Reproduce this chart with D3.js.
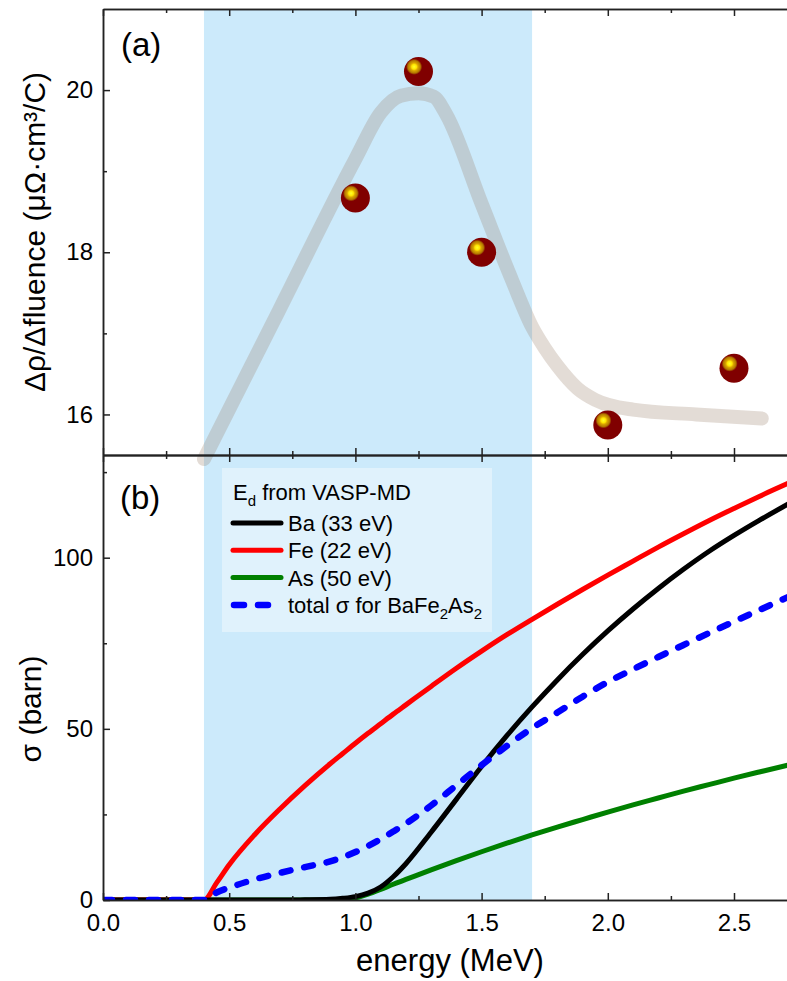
<!DOCTYPE html>
<html>
<head>
<meta charset="utf-8">
<script src="https://cdn.jsdelivr.net/npm/d3@7"></script>
<style>
  body { margin: 0; background: #fff; }
  svg { display: block; font-family: "Liberation Sans", Arial, sans-serif; }
  .axis path, .axis line { stroke: #222; stroke-width: 1.5; }
  .axis text { fill: #000; }
</style>
</head>
<body>
<div id="grafico"></div>
<script>
// panel (a): measured points and guide-to-the-eye curve
var energiaPuntos = [1.0, 1.25, 1.5, 2.0, 2.5]
var rhoPuntos = [18.67, 20.23, 18.0, 15.87, 16.57]
var energiaGuia = [0.4, 0.7, 1.0, 1.1, 1.18, 1.25, 1.31, 1.36, 1.5, 1.62, 1.7, 1.75, 1.8, 1.88, 1.95, 2.1, 2.35, 2.61]
var rhoGuia = [15.45, 17.3, 19.15, 19.72, 19.93, 19.96, 19.92, 19.7, 18.6, 17.66, 17.08, 16.82, 16.6, 16.32, 16.18, 16.06, 16.0, 15.95]

// panel (b): displacement cross sections
var energia = [0, 0.1, 0.2, 0.3, 0.4, 0.45, 0.5, 0.6, 0.7, 0.8, 0.9, 0.95, 1.0, 1.05, 1.1, 1.15, 1.2, 1.3, 1.4, 1.5, 1.6, 1.7, 1.8, 1.9, 2.0, 2.1, 2.2, 2.3, 2.4, 2.5, 2.6, 2.72]
var sigmaBa = [0, 0, 0, 0, 0, 0, 0, 0, 0, 0.05, 0.2, 0.5, 1.0, 2.0, 3.8, 6.8, 10.6, 19.8, 29.4, 39, 48, 56.4, 64.3, 71.7, 78.6, 85, 91, 96.6, 101.8, 106.5, 110.9, 115.9]
var sigmaFe = [0, 0, 0, 0, 0, 5.0, 10.3, 19, 26.5, 33.4, 39.8, 42.8, 45.8, 48.7, 51.5, 54.3, 57, 62.4, 67.7, 72.7, 77.5, 82, 86.4, 90.7, 94.9, 99, 103.1, 107, 110.8, 114.4, 117.9, 121.9]
var sigmaAs = [0, 0, 0, 0, 0, 0, 0, 0, 0, 0, 0, 0.1, 0.6, 1.7, 3.1, 4.6, 6.0, 8.8, 11.5, 14.1, 16.6, 19.0, 21.3, 23.5, 25.7, 27.8, 29.8, 31.8, 33.7, 35.6, 37.4, 39.5]
var sigmaTotal = [0, 0, 0, 0, 0, 2.2, 3.6, 6.0, 7.9, 9.6, 11.3, 12.5, 14.0, 15.8, 17.8, 20.0, 22.3, 27.6, 33.5, 39.4, 45.0, 50.2, 54.75, 59.4, 63.7, 67.4, 71.0, 74.5, 77.95, 81.35, 84.7, 88.7]

var series = [
    { nombre: "Ba (33 eV)", valores: sigmaBa, color: "#000000", discontinua: false },
    { nombre: "Fe (22 eV)", valores: sigmaFe, color: "#ff0000", discontinua: false },
    { nombre: "As (50 eV)", valores: sigmaAs, color: "#008000", discontinua: false },
    { nombre: "total", valores: sigmaTotal, color: "#0000ff", discontinua: true }
]

var ticksX = [0, 0.5, 1.0, 1.5, 2.0, 2.5]
var ticksXmenor = [0.25, 0.75, 1.25, 1.75, 2.25]
var ticksRho = [16, 18, 20]
var ticksRhoMenor = [17, 19]
var ticksSigma = [0, 50, 100]
var ticksSigmaMenor = [25, 75, 125]
var rangoAzul = [0.4, 1.7]

var width = 787,
    height = 981,
    izq = 103,
    der = 787,
    arribaA = 9,
    corte = 455,
    abajoB = 900;

var x = d3.scaleLinear().domain([0, 2.71]).range([izq, der]);
var yA = d3.scaleLinear().domain([15.5, 21]).range([corte, arribaA]);
var yB = d3.scaleLinear().domain([0, 130]).range([abajoB, corte]);

var svg = d3.select("#grafico").append("svg")
    .attr("width", width)
    .attr("height", height);

var defs = svg.append("defs");
var grad = defs.append("radialGradient")
    .attr("id", "bola")
    .attr("cx", 0.35).attr("cy", 0.34).attr("r", 0.3)
    .attr("fx", 0.35).attr("fy", 0.34);
grad.append("stop").attr("offset", "0%").attr("stop-color", "#ffff30");
grad.append("stop").attr("offset", "28%").attr("stop-color", "#ffe600");
grad.append("stop").attr("offset", "45%").attr("stop-color", "#d9a400");
grad.append("stop").attr("offset", "72%").attr("stop-color", "#b37800");
grad.append("stop").attr("offset", "92%").attr("stop-color", "#800000");
grad.append("stop").attr("offset", "100%").attr("stop-color", "#800000");

defs.append("clipPath").attr("id", "clipB")
    .append("rect")
    .attr("x", izq).attr("y", corte)
    .attr("width", der - izq).attr("height", abajoB - corte);

// blue shaded energy window in both panels
svg.append("rect")
    .attr("x", x(rangoAzul[0]))
    .attr("y", arribaA)
    .attr("width", x(rangoAzul[1]) - x(rangoAzul[0]))
    .attr("height", abajoB - arribaA)
    .attr("fill", "#cceafb");

pintaPanelA();
pintaPanelB();
pintaEjes();

function pintaPanelA() {
    var guia = energiaGuia.map(function (e, i) { return [e, rhoGuia[i]]; });
    var linea = d3.line()
        .x(function (d) { return x(d[0]); })
        .y(function (d) { return yA(d[1]); })
        .curve(d3.curveMonotoneX);

    svg.append("path")
        .datum(guia)
        .attr("d", linea)
        .attr("fill", "none")
        .attr("stroke", "rgba(150,125,105,0.27)")
        .attr("stroke-width", 14)
        .attr("stroke-linecap", "round")
        .attr("stroke-linejoin", "round");

    var puntos = energiaPuntos.map(function (e, i) { return { e: e, r: rhoPuntos[i] }; });
    svg.append("g").selectAll("circle")
        .data(puntos)
        .enter().append("circle")
        .attr("cx", function (d) { return x(d.e); })
        .attr("cy", function (d) { return yA(d.r); })
        .attr("r", 14.5)
        .attr("fill", "url(#bola)");

    svg.append("text")
        .attr("x", 121).attr("y", 56)
        .style("font-size", "33px")
        .text("(a)");

    svg.append("text")
        .attr("transform", "translate(45," + ((arribaA + corte) / 2) + ") rotate(-90)")
        .style("text-anchor", "middle")
        .style("font-size", "30px")
        .text("Δρ/Δfluence (μΩ·cm³/C)");
}

function pintaPanelB() {
    var g = svg.append("g").attr("clip-path", "url(#clipB)");

    var linea = d3.line()
        .x(function (d, i) { return x(energia[i]); })
        .y(function (d) { return yB(d); })
        .curve(d3.curveMonotoneX);

    // draw order: green, red, black, blue dashed on top
    [2, 1, 0, 3].forEach(function (k) {
        var s = series[k];
        g.append("path")
            .datum(s.valores)
            .attr("d", linea)
            .attr("fill", "none")
            .attr("stroke", s.color)
            .attr("stroke-width", s.discontinua ? 6.5 : 5)
            .attr("stroke-linecap", s.discontinua ? "round" : "butt")
            .attr("stroke-dasharray", s.discontinua ? "9,14" : null);
    });

    svg.append("text")
        .attr("x", 120).attr("y", 509)
        .style("font-size", "33px")
        .text("(b)");

    svg.append("text")
        .attr("transform", "translate(41,709) rotate(-90)")
        .style("text-anchor", "middle")
        .style("font-size", "30px")
        .text("σ (barn)");

    // legend
    var ley = svg.append("g");
    ley.append("rect")
        .attr("x", 222).attr("y", 468)
        .attr("width", 270).attr("height", 164)
        .attr("fill", "rgba(255,255,255,0.4)");

    var t0 = ley.append("text")
        .attr("x", 233).attr("y", 500)
        .style("font-size", "22px");
    t0.append("tspan").text("E");
    t0.append("tspan").attr("dy", 6).style("font-size", "15px").text("d");
    t0.append("tspan").attr("dy", -6).text(" from VASP-MD");

    series.forEach(function (s, i) {
        var yy = 523 + i * 27.3;
        ley.append("line")
            .attr("x1", s.discontinua ? 234 : 233)
            .attr("x2", s.discontinua ? 282 : 281)
            .attr("y1", yy).attr("y2", yy)
            .attr("stroke", s.color)
            .attr("stroke-width", s.discontinua ? 6.5 : 5)
            .attr("stroke-linecap", "round")
            .attr("stroke-dasharray", s.discontinua ? "10,14" : null);

        var t = ley.append("text")
            .attr("x", 288).attr("y", yy + 8)
            .style("font-size", "22px");
        if (s.discontinua) {
            t.append("tspan").text("total σ for BaFe");
            t.append("tspan").attr("dy", 6).style("font-size", "15px").text("2");
            t.append("tspan").attr("dy", -6).text("As");
            t.append("tspan").attr("dy", 6).style("font-size", "15px").text("2");
        } else {
            t.text(s.nombre);
        }
    });
}

function pintaEjes() {
    // top frame of panel (a)
    svg.append("g").attr("class", "axis")
        .attr("transform", "translate(0," + arribaA + ")")
        .call(d3.axisTop(x).tickValues(ticksX).tickSize(-7).tickSizeOuter(0).tickFormat(""));
    svg.append("g").attr("class", "axis")
        .attr("transform", "translate(0," + arribaA + ")")
        .call(d3.axisTop(x).tickValues(ticksXmenor).tickSize(-4).tickSizeOuter(0).tickFormat(""));

    // shared line between panels: ticks up for (a), down for (b)
    svg.append("g").attr("class", "axis")
        .attr("transform", "translate(0," + corte + ")")
        .call(d3.axisBottom(x).tickValues(ticksX).tickSize(-7).tickSizeOuter(0).tickFormat(""));
    svg.append("g").attr("class", "axis")
        .attr("transform", "translate(0," + corte + ")")
        .call(d3.axisBottom(x).tickValues(ticksXmenor).tickSize(-4).tickSizeOuter(0).tickFormat(""));
    svg.append("g").attr("class", "axis")
        .attr("transform", "translate(0," + corte + ")")
        .call(d3.axisTop(x).tickValues(ticksX).tickSize(-7).tickSizeOuter(0).tickFormat(""));
    svg.append("g").attr("class", "axis")
        .attr("transform", "translate(0," + corte + ")")
        .call(d3.axisTop(x).tickValues(ticksXmenor).tickSize(-4).tickSizeOuter(0).tickFormat(""));

    // bottom energy axis
    var ejeX = svg.append("g").attr("class", "axis")
        .attr("transform", "translate(0," + abajoB + ")")
        .call(d3.axisBottom(x).tickValues(ticksX).tickSize(-7).tickSizeOuter(0).tickPadding(14).tickFormat(d3.format(".1f")));
    ejeX.selectAll("text").style("font-size", "24px").attr("dy", "0.71em");
    svg.append("g").attr("class", "axis")
        .attr("transform", "translate(0," + abajoB + ")")
        .call(d3.axisBottom(x).tickValues(ticksXmenor).tickSize(-4).tickSizeOuter(0).tickFormat(""));

    // left axes
    var ejeA = svg.append("g").attr("class", "axis")
        .attr("transform", "translate(" + izq + ",0)")
        .call(d3.axisLeft(yA).tickValues(ticksRho).tickSize(-7).tickSizeOuter(0).tickPadding(10).tickFormat(d3.format("d")));
    ejeA.selectAll("text").style("font-size", "24px");
    svg.append("g").attr("class", "axis")
        .attr("transform", "translate(" + izq + ",0)")
        .call(d3.axisLeft(yA).tickValues(ticksRhoMenor).tickSize(-4).tickSizeOuter(0).tickFormat(""));

    var ejeB = svg.append("g").attr("class", "axis")
        .attr("transform", "translate(" + izq + ",0)")
        .call(d3.axisLeft(yB).tickValues(ticksSigma).tickSize(-7).tickSizeOuter(0).tickPadding(10).tickFormat(d3.format("d")));
    ejeB.selectAll("text").style("font-size", "24px");
    svg.append("g").attr("class", "axis")
        .attr("transform", "translate(" + izq + ",0)")
        .call(d3.axisLeft(yB).tickValues(ticksSigmaMenor).tickSize(-4).tickSizeOuter(0).tickFormat(""));

    svg.append("text")
        .attr("x", (izq + der) / 2 + 5).attr("y", 971)
        .style("text-anchor", "middle")
        .style("font-size", "31px")
        .text("energy (MeV)");
}
</script>
</body>
</html>
